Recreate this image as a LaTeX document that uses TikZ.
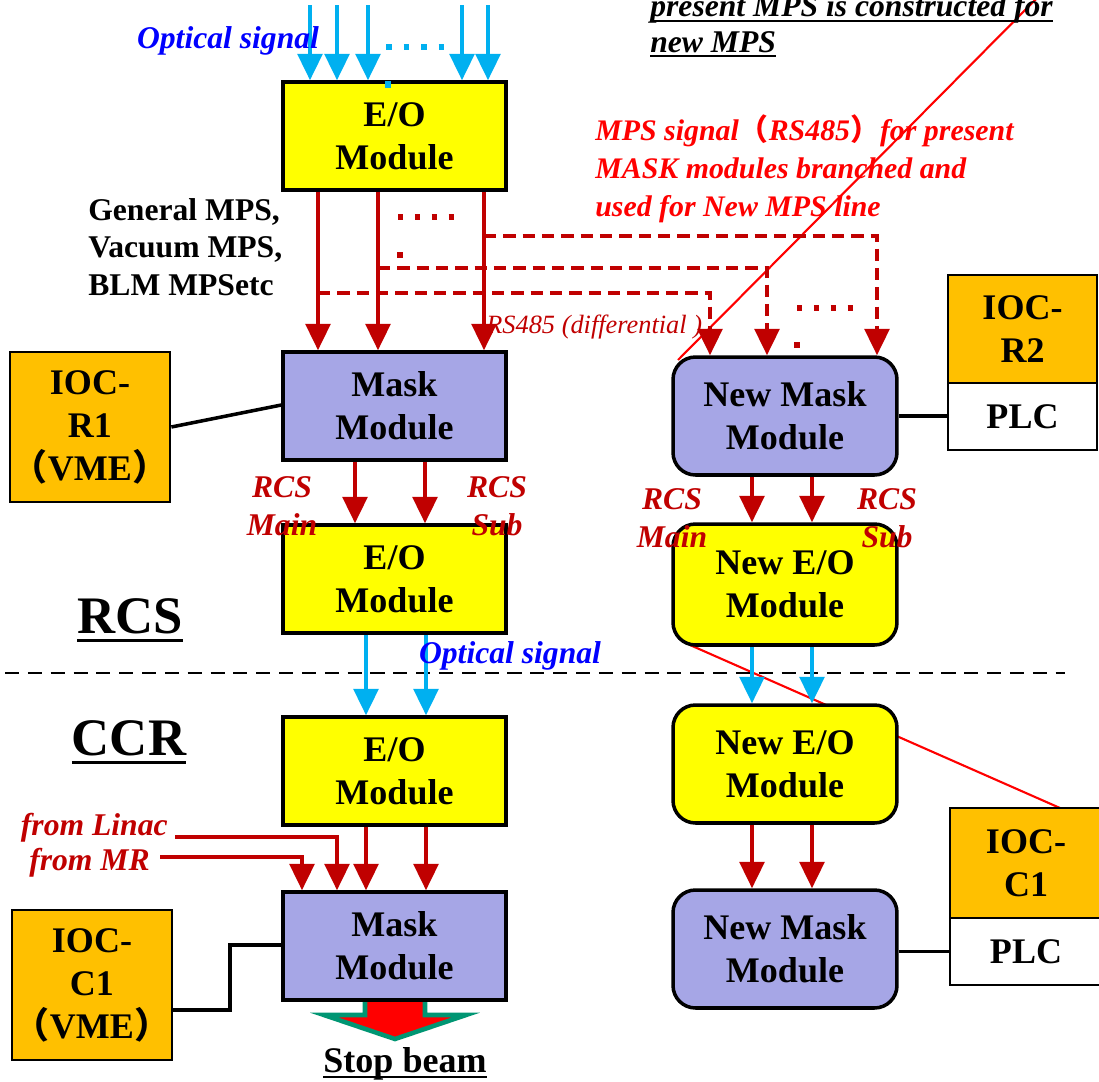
\documentclass[tikz,border=0pt]{standalone}
\usepackage{fontspec}
\setmainfont{Liberation Serif}
\newfontfamily\cjk{Noto Sans CJK SC}
\usetikzlibrary{arrows.meta}

\definecolor{eoyellow}{RGB}{255,255,0}
\definecolor{masklav}{RGB}{166,166,230}
\definecolor{iocorange}{RGB}{255,192,0}
\definecolor{mpsred}{RGB}{192,0,0}
\definecolor{linered}{RGB}{255,0,0}
\definecolor{optcyan}{RGB}{0,176,240}
\definecolor{optblue}{RGB}{0,0,255}
\definecolor{beamgreen}{RGB}{0,150,115}

\newcommand{\boxfont}{\fontsize{20.5}{24.5}\selectfont\bfseries}
\newcommand{\lblfont}{\fontsize{18}{21.3}\selectfont\bfseries\itshape}
\newcommand{\bigfont}{\fontsize{30}{34}\selectfont\bfseries}
\newcommand{\ultext}[1]{\leavevmode\setbox0=\hbox{#1}\rlap{\rule[-0.17em]{\wd0}{0.065em}}\box0}

\tikzset{
  module/.style={draw,line width=2pt,minimum width=4.46cm,minimum height=2.16cm,align=center,font=\boxfont},
  eomod/.style={module,fill=eoyellow},
  maskmod/.style={module,fill=masklav},
  newmod/.style={rounded corners=0.45cm,minimum width=4.48cm,minimum height=2.36cm},
  iocbox/.style={draw,line width=1.6pt,fill=iocorange,align=center,inner sep=0.5pt,font=\boxfont},
  plcbox/.style={draw,line width=1.6pt,fill=white,minimum height=1.34cm,font=\boxfont},
  redarrow/.style={draw=mpsred,line width=2.2pt,-{Triangle[width=14pt,length=15pt]}},
  optarrow/.style={draw=optcyan,line width=2.2pt,-{Triangle[width=14pt,length=15pt]}},
  brancharrow/.style={redarrow,dash pattern=on 7pt off 4pt},
  link/.style={line width=2pt},
  guide/.style={linered,line width=1.2pt},
  redlbl/.style={font=\lblfont,text=mpsred,align=center},
}

\begin{document}
\begin{tikzpicture}[x=0.02cm,y=-0.02cm]
    \useasboundingbox (0,0) rectangle (1099,1082);

    % red guide lines, behind the boxes
    \draw[guide] (1045,-10) -- (678,360);
    \draw[guide] (690,645) -- (1060,808);

    % RCS / CCR border
    \draw[line width=1.6pt,dash pattern=on 8pt off 5pt] (5,673) -- (1065,673);

    % stop beam arrow
    \draw[beamgreen,line width=2.6pt,fill=linered] (365,995) -- (425,995) -- (425,1015) -- (466,1015)
        -- (395,1039) -- (324,1015) -- (365,1015) -- cycle;

    % present MPS modules
    \node[eomod] (eo1) at (394.5,136) {E/O\\Module};
    \node[maskmod] (mask1) at (394.5,406) {Mask\\Module};
    \node[eomod] (eo2) at (394.5,579) {E/O\\Module};
    \node[eomod] (eo3) at (394.5,771) {E/O\\Module};
    \node[maskmod] (mask2) at (394.5,946) {Mask\\Module};
    \node[iocbox,minimum width=3.2cm,minimum height=3cm] (iocR1) at (90,427) {IOC-\\R1\\{\cjk （}VME{\cjk ）}};
    \node[iocbox,minimum width=3.2cm,minimum height=3cm] (iocC1) at (92,985) {IOC-\\C1\\{\cjk （}VME{\cjk ）}};

    % new MPS modules
    \node[maskmod,newmod] (nmask1) at (785,416) {New Mask\\Module};
    \node[eomod,newmod,minimum height=2.42cm] (neo1) at (785,584.5) {New E/O\\Module};
    \node[eomod,newmod] (neo2) at (785,764) {New E/O\\Module};
    \node[maskmod,newmod] (nmask2) at (785,949) {New Mask\\Module};
    \node[iocbox,minimum width=2.98cm,minimum height=2.16cm] (iocR2) at (1022.5,329) {IOC-\\R2};
    \node[plcbox,minimum width=2.98cm] (plcR2) at (1022.5,416.5) {PLC};
    \node[iocbox,minimum width=3.04cm,minimum height=2.2cm] (iocC1n) at (1026,863) {IOC-\\C1};
    \node[plcbox,minimum width=3.04cm] (plcC1) at (1026,951.5) {PLC};

    % links to the IOCs
    \draw[link] (iocR1.east) -- (mask1.west |- 0,405);
    \draw[link] (iocC1.east |- 0,1010) -| (230,945) -- (mask2.west |- 0,945);
    \draw[link] (nmask1.east) -- (plcR2.west |- nmask1.east);
    \draw[link] (nmask2.east |- plcC1.west) -- (plcC1.west);

    % optical inputs
    \coordinate (fibre) at (0,5);
    \foreach \x in {310,337,368,462,488}
        \draw[optarrow] (fibre -| \x,0) -- (eo1.north -| \x,0);
    \draw[optcyan,line width=3.2pt,dash pattern=on 3.2pt off 6.8pt] (386,47) -- (444,47);
    \draw[optcyan,line width=3pt] (388,81) -- (388,88);

    % MPS signals to the mask modules
    \foreach \x in {318,378,484}
        \draw[redarrow] (eo1.south -| \x,0) -- (mask1.north -| \x,0);
    \draw[mpsred,line width=3pt,dash pattern=on 3pt off 6.6pt] (398,217) -- (454,217);
    \fill[mpsred] (397,252) rectangle (403,258);
    \draw[brancharrow] (eo1.south -| 484,0) ++(0,44) -| (nmask1.north -| 877,0);
    \draw[brancharrow] (eo1.south -| 378,0) ++(0,76) -| (nmask1.north -| 767,0);
    \draw[brancharrow] (eo1.south -| 318,0) ++(0,101) -| (nmask1.north -| 710,0);
    \draw[mpsred,line width=3pt,dash pattern=on 3pt off 6.6pt] (797,308) -- (853,308);
    \fill[mpsred] (794,342) rectangle (800,348);

    % RCS main / sub lines
    \foreach \x in {355,425}
        \draw[redarrow] (mask1.south -| \x,0) -- (eo2.north -| \x,0);
    \foreach \x in {366,426} {
        \draw[optarrow] (eo2.south -| \x,0) -- (eo3.north -| \x,0);
        \draw[redarrow] (eo3.south -| \x,0) -- (mask2.north -| \x,0);
    }
    \foreach \x in {752,812} {
        \draw[redarrow] (nmask1.south -| \x,0) -- (neo1.north -| \x,0);
        \draw[optarrow] (neo1.south -| \x,0) -- (neo2.north -| \x,0);
        \draw[redarrow] (neo2.south -| \x,0) -- (nmask2.north -| \x,0);
    }

    % Linac and MR
    \coordinate (linac) at (175,837);
    \coordinate (mrin) at (160,857);
    \draw[redarrow] (linac) -| (mask2.north -| 337,0);
    \draw[redarrow] (mrin) -| (mask2.north -| 302,0);

    % labels
    \node[font=\fontsize{18}{21}\selectfont\bfseries\itshape,text=optblue,anchor=base] (optlbl1) at (228,48) {Optical signal};
    \node[font=\fontsize{18}{21}\selectfont\bfseries\itshape,text=optblue,anchor=base] (optlbl2) at (510,663) {Optical signal};
    \node[font=\fontsize{18}{20}\selectfont\bfseries\itshape,align=left,anchor=west,inner sep=0pt] (newlbl) at (650,26)
        {\ultext{present MPS is constructed for}\\\ultext{new MPS}};
    \node[font=\fontsize{17}{21.5}\selectfont\bfseries\itshape,text=linered,align=left,anchor=west,inner sep=0pt] (branchlbl) at (595,169)
        {MPS signal{\cjk （}RS485{\cjk ）}for present\\MASK modules branched and\\used for New MPS line};
    \node[font=\fontsize{18}{21.3}\selectfont\bfseries,align=left,anchor=west,inner sep=0pt] (mpslbl) at (88,247)
        {General MPS,\\Vacuum MPS,\\BLM MPSetc};
    \node[font=\fontsize{15}{18}\selectfont\itshape,text=mpsred,anchor=base west,inner sep=0pt] (rslbl) at (486,333) {RS485 (differential )};
    \node[redlbl] (mainL) at (282,506) {RCS\\Main};
    \node[redlbl] (subL) at (497,506) {RCS\\Sub};
    \node[redlbl] (mainR) at (672,518) {RCS\\Main};
    \node[redlbl] (subR) at (887,518) {RCS\\Sub};
    \node[font=\lblfont,text=mpsred,anchor=base east,inner sep=0pt] (linaclbl) at (168,835) {from Linac};
    \node[font=\lblfont,text=mpsred,anchor=base east,inner sep=0pt] (mrlbl) at (150,870) {from MR};
    \node[font=\bigfont,anchor=base] (rcslbl) at (130,633) {\ultext{RCS}};
    \node[font=\bigfont,anchor=base] (ccrlbl) at (129,755) {\ultext{CCR}};
    \node[font=\boxfont,anchor=base] (stoplbl) at (405,1072) {\ultext{Stop beam}};
\end{tikzpicture}
\end{document}
